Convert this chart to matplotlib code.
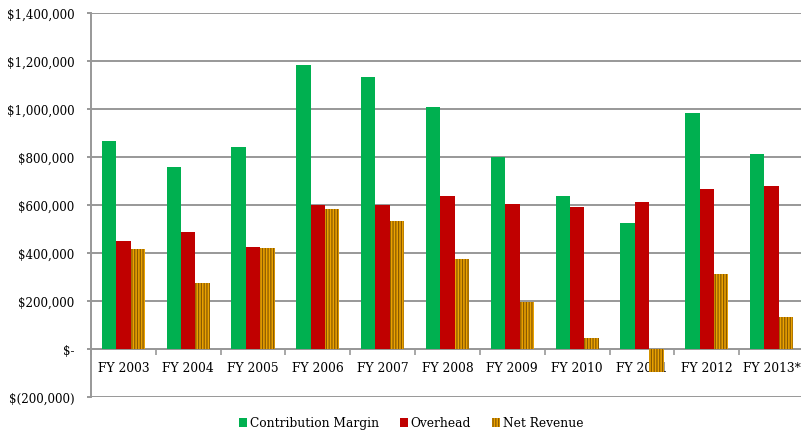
import matplotlib
matplotlib.use("Agg")
import matplotlib.pyplot as plt
import numpy as np
from matplotlib.ticker import FuncFormatter, FixedLocator

years = ["FY 2003", "FY 2004", "FY 2005", "FY 2006", "FY 2007", "FY 2008",
         "FY 2009", "FY 2010", "FY 2011", "FY 2012", "FY 2013*"]
contribution = [868000, 758000, 842000, 1183000, 1134000, 1010000,
                798000, 639000, 523000, 982000, 812000]
overhead = [452000, 487000, 427000, 599000, 599000, 639000,
            605000, 593000, 613000, 665000, 680000]
net_revenue = [415000, 274000, 419000, 585000, 535000, 375000,
               195000, 46000, -94000, 314000, 134000]

plt.rcParams['font.family'] = ['DejaVu Serif']
plt.rcParams['hatch.linewidth'] = 0.9

fig = plt.figure(figsize=(8.01, 4.35), dpi=100)
ax = fig.add_axes([91/801, 1-398/435, (804-91)/801, (398-14)/435])

x = np.arange(len(years))
w = 0.222
ax.bar(x - w, contribution, w, color='#00B050', label='Contribution Margin', zorder=3)
ax.bar(x, overhead, w, color='#C00000', label='Overhead', zorder=3)
ax.bar(x + w, net_revenue, w, color='#EBA200', edgecolor='#8A5A00', linewidth=0,
       hatch='||||||', label='Net Revenue', zorder=3)

ax.set_xlim(-0.5, len(years) - 0.5)
ax.set_ylim(-200000, 1400000)
ax.set_yticks(np.arange(-200000, 1400001, 200000))

def money(v, pos):
    if v == 0:
        return '$-'
    if v < 0:
        return '$({:,.0f})'.format(-v)
    return '${:,.0f}'.format(v)

ax.yaxis.set_major_formatter(FuncFormatter(money))
ax.grid(axis='y', color='#989898', linewidth=1.4)
ax.set_axisbelow(True)

ax.set_xticks(x)
ax.set_xticklabels(years)
ax.xaxis.set_minor_locator(FixedLocator(np.arange(-0.5, len(years), 1)))
ax.tick_params(axis='x', which='major', length=0, pad=9, labelsize=8.8)
ax.tick_params(axis='x', which='minor', length=4, color='#989898', width=1.2)
ax.tick_params(axis='y', length=3, color='#989898', width=1.4, labelsize=8.6, pad=9)

ax.spines['bottom'].set_position(('data', 0))
ax.spines['bottom'].set_color('#989898')
ax.spines['bottom'].set_linewidth(1.4)
ax.spines['left'].set_color('#989898')
ax.spines['left'].set_linewidth(1.4)
ax.spines['top'].set_visible(False)
ax.spines['right'].set_visible(False)

fig.legend(loc='center', bbox_to_anchor=(411/801, 1-424/435), ncol=3, frameon=False,
           handlelength=0.7, handleheight=0.7, handletextpad=0.2, columnspacing=1.7,
           fontsize=8.8)

fig.savefig('out.png', dpi=100)
